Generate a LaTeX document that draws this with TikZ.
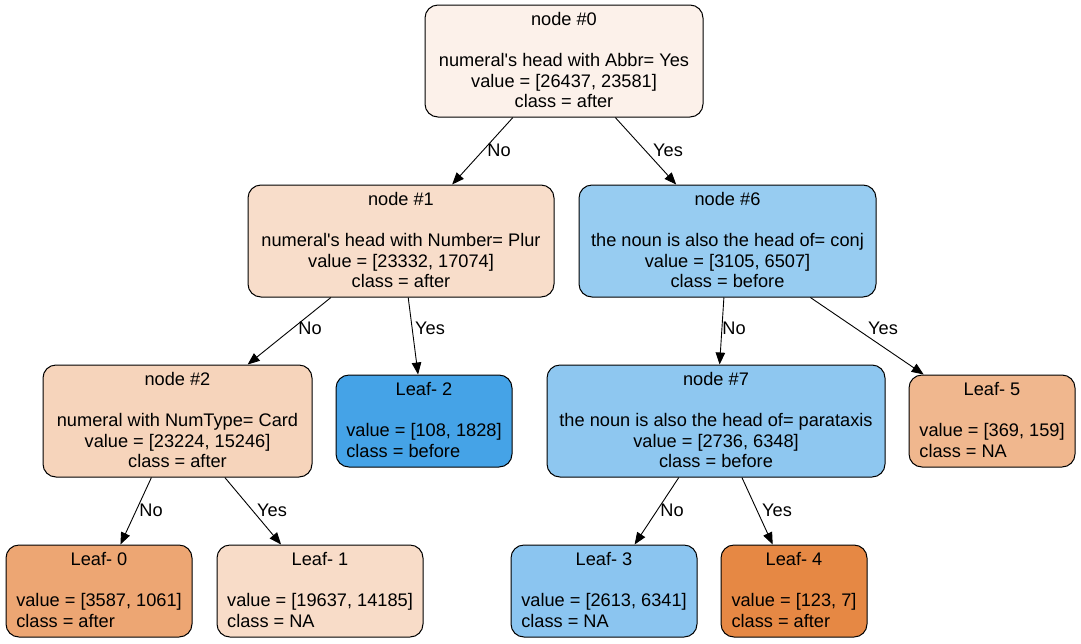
\documentclass[tikz,border=0pt]{standalone}
\usepackage{fontspec}
\setmainfont{Liberation Sans}
\usetikzlibrary{arrows.meta}
\definecolor{c0}{HTML}{FCF1EA}
\definecolor{c1}{HTML}{F8DDCA}
\definecolor{c2}{HTML}{F6D4BB}
\definecolor{c6}{HTML}{97CCF1}
\definecolor{c7}{HTML}{8EC7F0}
\definecolor{cL0}{HTML}{EDA673}
\definecolor{cL1}{HTML}{F8DCC8}
\definecolor{cL2}{HTML}{45A3E7}
\definecolor{cL3}{HTML}{8BC5F0}
\definecolor{cL4}{HTML}{E68844}
\definecolor{cL5}{HTML}{F0B78E}
\tikzset{
  treebox/.style={draw=black, line width=1pt, rounded corners=13pt, inner sep=0pt,
    minimum height=112pt, font=\fontsize{18.2}{20.5}\selectfont},
  leafbox/.style={treebox, minimum height=92pt},
  edge/.style={line width=0.9pt, -{Triangle[length=12pt,width=9.5pt]}},
  lbl/.style={inner sep=0pt, font=\fontsize{18.2}{20.5}\selectfont}
}
\newcommand{\inner}[4]{\raisebox{-1.5pt}[\height][\depth]{\begin{tabular}{@{}c@{}}#1\\ \\ #2\\ #3\\ #4\end{tabular}}}
\newcommand{\leafl}[3]{\raisebox{-1.5pt}[\height][\depth]{\begin{tabular}{@{}l@{}}\multicolumn{1}{@{}c@{}}{#1}\\ \\ #2\\ #3\end{tabular}}}
\newcommand{\aq}{\textquotesingle}
\begin{document}
\begin{tikzpicture}[x=1pt,y=-1pt]
\useasboundingbox (0,0) rectangle (1081,643);
\fill[white] (0,0) rectangle (1081,643);
% internal nodes
\node[treebox, fill=c0, minimum width=278pt] (n0) at (564,61)
  {\inner{node \#0}{numeral\aq s head with Abbr= Yes}{value = [26437, 23581]}{class = after}};
\node[treebox, fill=c1, minimum width=306pt] (n1) at (401,241)
  {\inner{node \#1}{numeral\aq s head with Number= Plur}{value = [23332, 17074]}{class = after}};
\node[treebox, fill=c6, minimum width=297pt] (n6) at (727.5,241)
  {\inner{node \#6}{the noun is also the head of= conj}{value = [3105, 6507]}{class = before}};
\node[treebox, fill=c2, minimum width=269pt] (n2) at (177.5,421)
  {\inner{node \#2}{numeral with NumType= Card}{value = [23224, 15246]}{class = after}};
\node[treebox, fill=c7, minimum width=338pt] (n7) at (716,421)
  {\inner{node \#7}{the noun is also the head of= parataxis}{value = [2736, 6348]}{class = before}};
% leaves
\node[leafbox, fill=cL2, minimum width=176pt] (L2) at (424,421)
  {\leafl{Leaf- 2}{value = [108, 1828]}{class = before}};
\node[leafbox, fill=cL5, minimum width=166pt] (L5) at (992,421)
  {\leafl{Leaf- 5}{value = [369, 159]}{class = NA}};
\node[leafbox, fill=cL0, minimum width=186pt] (L0) at (99,591)
  {\leafl{Leaf- 0}{value = [3587, 1061]}{class = after}};
\node[leafbox, fill=cL1, minimum width=206pt] (L1) at (320,591)
  {\leafl{Leaf- 1}{value = [19637, 14185]}{class = NA}};
\node[leafbox, fill=cL3, minimum width=186pt] (L3) at (604,591)
  {\leafl{Leaf- 3}{value = [2613, 6341]}{class = NA}};
\node[leafbox, fill=cL4, minimum width=146pt] (L4) at (794,591)
  {\leafl{Leaf- 4}{value = [123, 7]}{class = after}};
% edges
\draw[edge] (n0) -- (n1);
\draw[edge] (n0) -- (n6);
\draw[edge] (n1) -- (n2);
\draw[edge] (n1) -- (L2);
\draw[edge] (n6) -- (n7);
\draw[edge] (n6) -- (L5);
\draw[edge] (n2) -- (L0);
\draw[edge] (n2) -- (L1);
\draw[edge] (n7) -- (L3);
\draw[edge] (n7) -- (L4);
% edge labels
\node[lbl] (t01) at (499,150) {No};
\node[lbl] (t06) at (668,150) {Yes};
\node[lbl] (t12) at (310,328) {No};
\node[lbl] (t1L2) at (430,328) {Yes};
\node[lbl] (t67) at (734,328) {No};
\node[lbl] (t6L5) at (883,328) {Yes};
\node[lbl] (t2L0) at (151,510) {No};
\node[lbl] (t2L1) at (272,510) {Yes};
\node[lbl] (t7L3) at (672,510) {No};
\node[lbl] (t7L4) at (777,510) {Yes};
\end{tikzpicture}
\end{document}
